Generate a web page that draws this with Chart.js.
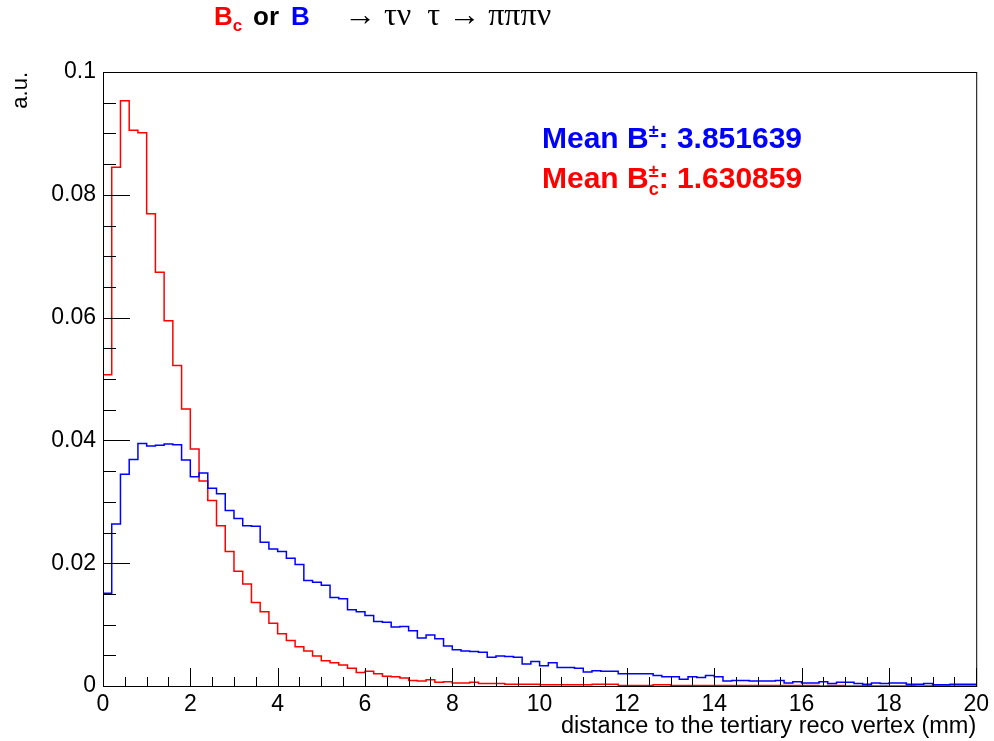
<!DOCTYPE html>
<html>
<head>
<meta charset="utf-8">
<script src="https://cdn.jsdelivr.net/npm/chart.js@4.4.1/dist/chart.umd.min.js"></script>
<style>
  html, body { margin: 0; padding: 0; background: #fff; }
  #wrap { width: 994px; height: 741px; }
</style>
</head>
<body>
<div id="wrap"><canvas id="chart" width="994" height="741"></canvas></div>
<script>
// 100 bins of 0.2 mm between 0 and 20 mm
const binLow = 0;
const binWidth = 0.2;

// normalised entries per bin, B+- sample
const countsB = [
  0.0151, 0.0264, 0.0345, 0.0369, 0.0395, 0.0391, 0.0392, 0.0394, 0.0393, 0.0368,
  0.0341, 0.0347, 0.0322, 0.0313, 0.0286, 0.0273, 0.0261, 0.0260, 0.0234, 0.0223,
  0.0219, 0.0208, 0.0198, 0.0172, 0.0169, 0.0164, 0.0144, 0.0142, 0.0124, 0.0121,
  0.0115, 0.0105, 0.0104, 0.0096, 0.0097, 0.0090, 0.0078, 0.0083, 0.0077, 0.0065,
  0.0059, 0.0057, 0.0056, 0.0055, 0.0047, 0.0049, 0.0048, 0.0047, 0.0036, 0.0040,
  0.0033, 0.0038, 0.0030, 0.0030, 0.0029, 0.0023, 0.0025, 0.0024, 0.0024, 0.0020,
  0.0020, 0.0020, 0.0020, 0.0017, 0.0015, 0.0015, 0.0011, 0.0015, 0.0014, 0.0017,
  0.0015, 0.0008, 0.0009, 0.0009, 0.0008, 0.0008, 0.0008, 0.0009, 0.0005, 0.0007,
  0.0005, 0.0005, 0.0007, 0.0004, 0.0006, 0.0006, 0.0004, 0.0003, 0.0005, 0.0004,
  0.0005, 0.0005, 0.0003, 0.0003, 0.0004, 0.0002, 0.0002, 0.0003, 0.0003, 0.0003
];

// normalised entries per bin, Bc+- sample
const countsBc = [
  0.0507, 0.0845, 0.0953, 0.0905, 0.0901, 0.0769, 0.0674, 0.0595, 0.0522, 0.0451,
  0.0386, 0.0334, 0.0302, 0.0261, 0.0219, 0.0187, 0.0166, 0.0136, 0.0121, 0.0102,
  0.0085, 0.0074, 0.0064, 0.0057, 0.0049, 0.0041, 0.0038, 0.0034, 0.0029, 0.0022,
  0.0024, 0.0020, 0.0016, 0.0015, 0.0013, 0.0009, 0.0008, 0.0010, 0.0006, 0.0007,
  0.0005, 0.0005, 0.0006, 0.0004, 0.0004, 0.0004, 0.0003, 0.0003, 0.0003, 0.0003,
  0.0002, 0.0002, 0.0002, 0.0002, 0.0002, 0.0002, 0.0003, 0.0003, 0.0003, 0.0001,
  0.0001, 0.0001, 0.0001, 0.0002, 0.0002, 0.0001, 0.0001, 0.0001, 0.0001, 0.0001,
  0.0001, 0.0001, 0.0001, 0.0001, 0.0001, 0.0001, 0.0001, 0.0001, 0.0001, 0.0001,
  0.0001, 0.0001, 0.0000, 0.0001, 0.0001, 0.0000, 0.0000, 0.0001, 0.0000, 0.0000,
  0.0000, 0.0000, 0.0001, 0.0000, 0.0000, 0.0000, 0.0000, 0.0000, 0.0000, 0.0000
];

const xTicks = [0, 2, 4, 6, 8, 10, 12, 14, 16, 18, 20];
const yTicks = [0, 0.02, 0.04, 0.06, 0.08, 0.1];

const meanB = "3.851639";
const meanBc = "1.630859";

const sans = '"Liberation Sans", Arial, Helvetica, sans-serif';
const serif = '"Liberation Serif", "Times New Roman", serif';

// left bin edges with the content, plus the closing edge of the last bin
function toSteps(counts) {
  const pts = counts.map((v, i) => ({ x: binLow + i * binWidth, y: v }));
  pts.push({ x: binLow + counts.length * binWidth, y: counts[counts.length - 1] });
  return pts;
}

// frame plus inward ROOT-style ticks
const framePlugin = {
  id: "frame",
  afterDraw(chart) {
    const { ctx, chartArea: a, scales } = chart;
    ctx.save();
    ctx.strokeStyle = "#000";
    ctx.lineWidth = 1;
    ctx.strokeRect(a.left + 0.5, a.top + 0.5, a.right - a.left, a.bottom - a.top);

    ctx.beginPath();
    for (let i = 0; i <= 40; i++) {
      const v = i * 0.5;
      const px = Math.round(scales.x.getPixelForValue(v)) + 0.5;
      const len = i % 4 === 0 ? 18 : 9;
      ctx.moveTo(px, a.bottom);
      ctx.lineTo(px, a.bottom - len);
    }
    for (let i = 0; i <= 20; i++) {
      const v = i * 0.005;
      const py = Math.round(scales.y.getPixelForValue(v)) + 0.5;
      const len = i % 4 === 0 ? 27 : 13;
      ctx.moveTo(a.left, py);
      ctx.lineTo(a.left + len, py);
    }
    ctx.stroke();
    ctx.restore();
  }
};

function drawRuns(ctx, x, y, runs) {
  runs.forEach((r) => {
    ctx.font = r.font;
    ctx.fillStyle = r.color;
    ctx.fillText(r.text, x, y + (r.dy || 0));
    if (!r.keep) x += ctx.measureText(r.text).width;
  });
  return x;
}

// title line and the two mean values
const textPlugin = {
  id: "labels",
  afterDraw(chart) {
    const ctx = chart.ctx;
    ctx.save();
    ctx.textBaseline = "alphabetic";
    ctx.textAlign = "left";

    const big = "bold 26px " + sans;
    const small = "bold 17px " + sans;
    drawRuns(ctx, 214, 25, [
      { text: "B", font: big, color: "#ff0000" },
      { text: "c", font: small, color: "#ff0000", dy: 6 }
    ]);
    drawRuns(ctx, 253, 25, [{ text: "or", font: big, color: "#000" }]);
    drawRuns(ctx, 291, 25, [{ text: "B", font: big, color: "#0000ff" }]);
    drawRuns(ctx, 344, 25, [{ text: "\u2192 \u03c4\u03bd  \u03c4 \u2192 \u03c0\u03c0\u03c0\u03bd", font: "32px " + serif, color: "#000" }]);

    const mf = "bold 30px " + sans;
    const sf = "bold 18px " + sans;
    drawRuns(ctx, 542, 148, [
      { text: "Mean B", font: mf, color: "#0000ff" },
      { text: "\u00b1", font: sf, color: "#0000ff", dy: -11 },
      { text: ": " + meanB, font: mf, color: "#0000ff" }
    ]);
    drawRuns(ctx, 542, 188, [
      { text: "Mean B", font: mf, color: "#ff0000" },
      { text: "\u00b1", font: sf, color: "#ff0000", dy: -11, keep: true },
      { text: "c", font: sf, color: "#ff0000", dy: 7 },
      { text: ": " + meanBc, font: mf, color: "#ff0000" }
    ]);
    ctx.restore();
  }
};

const lineStyle = {
  stepped: "before",
  pointRadius: 0,
  borderWidth: 1.5,
  fill: false,
  tension: 0
};

new Chart(document.getElementById("chart"), {
  type: "line",
  data: {
    datasets: [
      { label: "B", data: toSteps(countsB), borderColor: "#0000ff", ...lineStyle },
      { label: "Bc", data: toSteps(countsBc), borderColor: "#ff0000", ...lineStyle }
    ]
  },
  options: {
    responsive: false,
    animation: false,
    layout: { padding: { top: 72, right: 14, left: 0, bottom: 0 } },
    plugins: { legend: { display: false }, tooltip: { enabled: false } },
    scales: {
      x: {
        type: "linear",
        min: 0,
        max: 20,
        afterBuildTicks: (s) => { s.ticks = xTicks.map((v) => ({ value: v })); },
        afterFit: (s) => { s.height = 55; },
        grid: { display: false, drawTicks: false },
        border: { display: false },
        ticks: {
          padding: 5,
          maxRotation: 0,
          autoSkip: false,
          color: "#000",
          font: { family: sans, size: 23 },
          callback: (v) => String(v)
        },
        title: {
          display: true,
          text: "distance to the tertiary reco vertex (mm)",
          align: "end",
          color: "#000",
          font: { family: sans, size: 23.5 },
          padding: { top: 0, bottom: 0 }
        }
      },
      y: {
        type: "linear",
        min: 0,
        max: 0.1,
        afterBuildTicks: (s) => { s.ticks = yTicks.map((v) => ({ value: v })); },
        afterFit: (s) => { s.width = 103; },
        grid: { display: false, drawTicks: false },
        border: { display: false },
        ticks: {
          padding: 7,
          color: "#000",
          font: { family: sans, size: 23 },
          callback: (v) => String(v)
        },
        title: {
          display: true,
          text: "a.u.",
          align: "end",
          color: "#000",
          font: { family: sans, size: 22 },
          padding: { top: 8, bottom: 0 }
        }
      }
    }
  },
  plugins: [framePlugin, textPlugin]
});
</script>
</body>
</html>
